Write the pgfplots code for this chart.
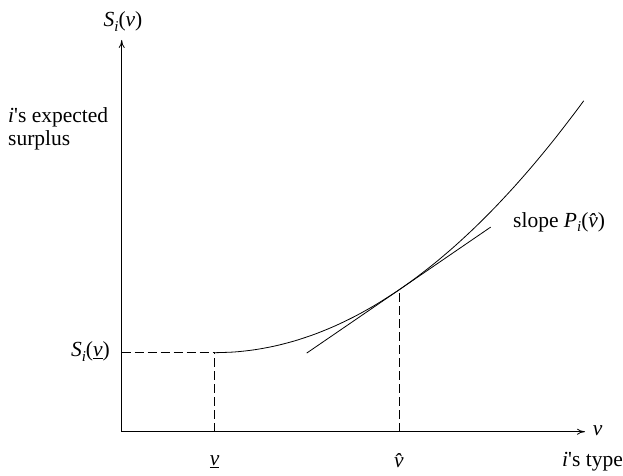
\documentclass[border=0pt]{standalone}
\usepackage{fontspec}
\setmainfont{Liberation Serif}
\usepackage{pgfplots}
\pgfplotsset{compat=1.18}
\usetikzlibrary{arrows.meta}
\newcommand\Sub[1]{\raisebox{-0.45ex}{\fontsize{15}{15}\selectfont\itshape #1}}
\begin{document}
\begin{tikzpicture}
\fontsize{21.5}{25}\selectfont
\begin{axis}[
  anchor=origin, at={(0pt,0pt)},
  x=1pt, y=1pt,
  xmin=0, xmax=463.3, ymin=0, ymax=391.7,
  axis lines=left,
  axis line style={line width=0.8pt, -{To[length=8pt,width=6pt]}},
  xtick=\empty, ytick=\empty,
  clip=false,
  cycle list={{black}},
  every axis plot/.append style={black, line width=0.8pt, no markers},
]
% convex surplus curve
\addplot[black, smooth] coordinates {
(93,79) (113,79.74) (133,81.96) (153,85.66) (173,90.84) (193,97.5)
(213,105.64) (233,115.26) (253,126.36) (273,138.94) (278,142.32)
(293,153) (313,168.54) (333,185.56) (353,204.06) (373,224.04)
(393,245.5) (413,268.44) (433,292.86) (453,318.76) (462,330.9)
};
% tangent line
\addplot[black] coordinates {(185,78.6) (369,204.6)};
% dashed guides
\addplot[black, dash pattern=on 9pt off 4pt, line width=0.7pt] coordinates {(0,79) (93,79)};
\addplot[black, dash pattern=on 9pt off 4pt, line width=0.7pt] coordinates {(93,0) (93,79)};
\addplot[black, dash pattern=on 9pt off 4pt, line width=0.7pt] coordinates {(277.3,0) (277.3,142)};
% labels
\node at (axis cs:1.3,410) {\itshape S\Sub{i}\upshape(\itshape v\upshape)};
\node[anchor=west, align=left, inner sep=0pt] at (axis cs:-113.7,303) {{\itshape i}\textquotesingle s expected\\[-2pt]surplus};
\node[anchor=east, inner sep=0pt] at (axis cs:-11.7,80) {\itshape S\Sub{i}\upshape(\underline{\itshape v}\upshape)};
\node at (axis cs:476,1) {\itshape v};
\node at (axis cs:93,-30) {\underline{\itshape v}};
\node at (axis cs:277.3,-29) {\itshape \^v};
\node[anchor=east, inner sep=0pt] at (axis cs:501.3,-30) {{\itshape i}\textquotesingle s type};
\node[anchor=west, inner sep=0pt] at (axis cs:391.3,209.7) {slope \itshape P\Sub{i}\upshape(\itshape \^v\upshape)};
\end{axis}
\useasboundingbox (-121.7pt,-40.3pt) rectangle (501.3pt,431.7pt);
\end{tikzpicture}
\end{document}
